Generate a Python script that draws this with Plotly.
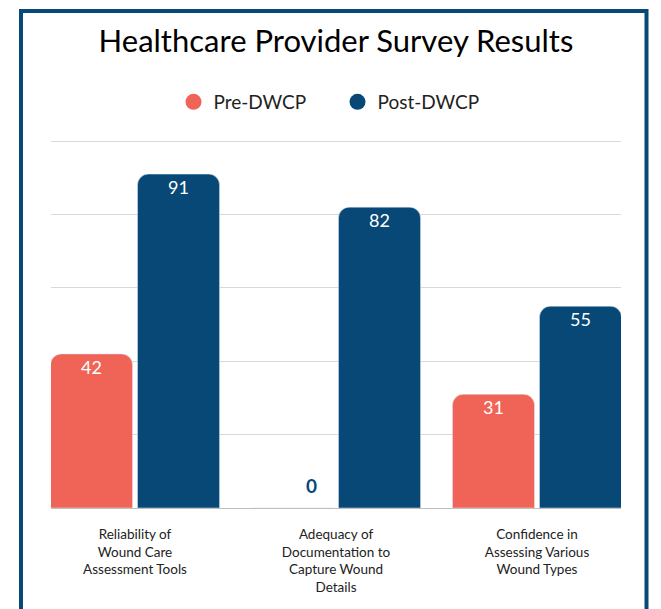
import plotly.graph_objects as go

categories = [
    "Reliability of<br>Wound Care<br>Assessment Tools",
    "Adequacy of<br>Documentation to<br>Capture Wound<br>Details",
    "Confidence in<br>Assessing Various<br>Wound Types",
]
pre_values = [42, 0, 31]
post_values = [91, 82, 55]
series_names = ["Pre-DWCP", "Post-DWCP"]

PRE_COLOR = "#EF6456"
POST_COLOR = "#074877"
FONT = "Lato, Carlito, Calibri, sans-serif"

# page offset (browser body margin) compensation
OFF = 8
W, H = 661 - OFF, 609 - OFF
L, T = 51 - OFF, 140 - OFF
PW, PH = 570, 368
R, B = W - L - PW, H - T - PH

fig = go.Figure()
series = [(series_names[0], pre_values, PRE_COLOR, -1),
          (series_names[1], post_values, POST_COLOR, 1)]
for name, vals, col, side in series:
    fig.add_trace(go.Bar(
        x=categories, y=vals, name=name, marker_color=col,
        showlegend=False, cliponaxis=False,
    ))
    fig.add_trace(go.Scatter(
        x=[None], y=[None], mode="markers", name=name,
        marker=dict(symbol="circle", size=20, color=col),
    ))
    for cat, v in zip(categories, vals):
        if v == 0:
            fig.add_annotation(x=cat, y=v, text=f"<b>{v}</b>", showarrow=False,
                               xshift=side * 24.5, yshift=23, yanchor="middle",
                               font=dict(family=FONT, size=19, color=POST_COLOR))
        else:
            fig.add_annotation(x=cat, y=v, text=str(v), showarrow=False,
                               xshift=side * 43.5, yshift=-13, yanchor="middle",
                               font=dict(family=FONT, size=18, color="white"))

fig.update_layout(
    width=W, height=H,
    margin=dict(l=L, r=R, t=T, b=B),
    paper_bgcolor="white", plot_bgcolor="white",
    font=dict(family=FONT, color="#222222"),
    title=dict(text="Healthcare Provider Survey Results",
               font=dict(family=FONT, size=31, color="black"),
               x=(336 - OFF) / W, xanchor="center",
               y=1 - (41 - OFF) / H, yanchor="middle"),
    legend=dict(orientation="h", x=(337.5 - 51) / PW, xanchor="center",
                y=(508 - 102) / PH, yanchor="middle",
                font=dict(family=FONT, size=19, color="#222222"),
                itemsizing="trace", itemwidth=30, entrywidth=119,
                traceorder="normal"),
    barmode="group", bargap=0.134, bargroupgap=0.057,
    barcornerradius=11,
)
fig.update_xaxes(type="category", range=[-0.418, 2.418],
                 showgrid=False, showline=True, linecolor="#BFBFBF",
                 linewidth=1, ticks="", ticklabelstandoff=14,
                 tickfont=dict(family=FONT, size=13.5, color="#222222"))
fig.update_yaxes(range=[0, 100.3], dtick=20, showgrid=True,
                 gridcolor="#D9D9D9", gridwidth=1, showticklabels=False,
                 zeroline=False, showline=False)

# frame around the chart (page coordinates converted to paper)
def px(x): return (x - 51) / PW
def py(y): return (508 - y) / PH
fig.add_shape(type="path", xref="paper", yref="paper",
              path=f"M {px(21)} {py(640)} L {px(21)} {py(11)} L {px(646.5)} {py(11)} L {px(646.5)} {py(640)}",
              line=dict(color=POST_COLOR, width=4))

fig.write_html("out.html")
